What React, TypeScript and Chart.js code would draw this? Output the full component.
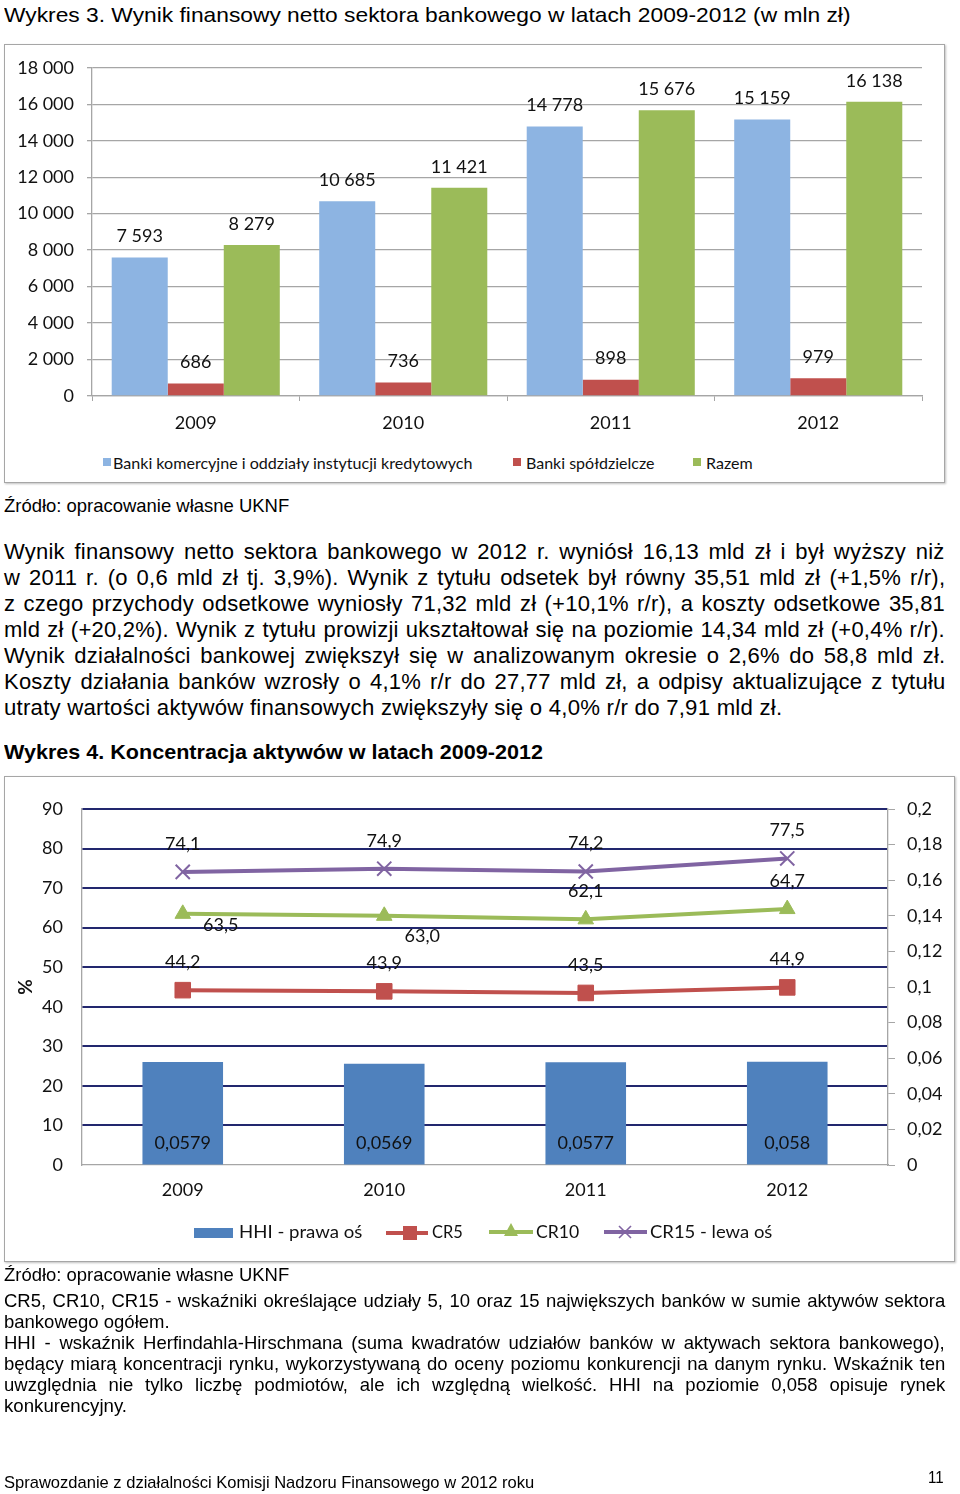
import React, { useEffect, useLayoutEffect, useRef } from 'react';
import { Chart, registerables } from 'chart.js';

Chart.register(...registerables);

// ---------- data: Wykres 3 ----------
const years = ['2009', '2010', '2011', '2012'];
const bankiKomercyjne = [7593, 10685, 14778, 15159];
const bankiSpoldzielcze = [686, 736, 898, 979];
const razem = [8279, 11421, 15676, 16138];
const chart1YMax = 18000;
const chart1YStep = 2000;

// ---------- data: Wykres 4 ----------
const hhi = [0.0579, 0.0569, 0.0577, 0.058];
const cr5 = [44.2, 43.9, 43.5, 44.9];
const cr10 = [63.5, 63.0, 62.1, 64.7];
const cr15 = [74.1, 74.9, 74.2, 77.5];
const leftAxisMax = 90;
const leftAxisStep = 10;
const rightAxisMax = 0.2;
const rightAxisStep = 0.02;

// ---------- text ----------
const title3 = 'Wykres 3. Wynik finansowy netto sektora bankowego w latach 2009-2012 (w mln zł)';
const title4 = 'Wykres 4. Koncentracja aktywów w latach 2009-2012';
const sourceText = 'Źródło: opracowanie własne UKNF';
const paragraphLines = [
  'Wynik finansowy netto sektora bankowego w 2012 r. wyniósł 16,13 mld zł i był wyższy niż',
  'w 2011 r. (o 0,6 mld zł tj. 3,9%). Wynik z tytułu odsetek był równy 35,51 mld zł (+1,5% r/r),',
  'z czego przychody odsetkowe wyniosły 71,32 mld zł (+10,1% r/r), a koszty odsetkowe 35,81',
  'mld zł (+20,2%). Wynik z tytułu prowizji ukształtował się na poziomie 14,34 mld zł (+0,4% r/r).',
  'Wynik działalności bankowej zwiększył się w analizowanym okresie o 2,6% do 58,8 mld zł.',
  'Koszty działania banków wzrosły o 4,1% r/r do 27,77 mld zł, a odpisy aktualizujące z tytułu',
  'utraty wartości aktywów finansowych zwiększyły się o 4,0% r/r do 7,91 mld zł.',
];
const noteLines = [
  'CR5, CR10, CR15 - wskaźniki określające udziały 5, 10 oraz 15 największych banków w sumie aktywów sektora',
  'bankowego ogółem.',
  'HHI - wskaźnik Herfindahla-Hirschmana (suma kwadratów udziałów banków w aktywach sektora bankowego),',
  'będący miarą koncentracji rynku, wykorzystywaną do oceny poziomu konkurencji na danym rynku. Wskaźnik ten',
  'uwzględnia nie tylko liczbę podmiotów, ale ich względną wielkość. HHI na poziomie 0,058 opisuje rynek',
  'konkurencyjny.',
];
const footerText = 'Sprawozdanie z działalności Komisji Nadzoru Finansowego w 2012 roku';
const pageNumber = '11';

const PAGE_FONT = '"Liberation Sans", Arial, sans-serif';
const CHART_FONT = 'Lato, "Open Sans", sans-serif';

const fmtThousands = (v: number) => String(Math.round(v)).replace(/\B(?=(\d{3})+(?!\d))/g, ' ');
const fmtComma = (v: number) => String(Math.round(v * 10000) / 10000).replace('.', ',');
const fmtOneDec = (v: number) => v.toFixed(1).replace('.', ',');

// label placement for line series (dx, dy in px relative to point)
const lineLabelOffsets: [number, number][][] = [
  [[0, -28], [0, -28], [0, -28], [0, -28]],
  [[38, 11], [38, 20], [0, -28], [0, -28]],
  [[0, -28], [0, -28], [0, -28], [0, -28]],
];

type TxtProps = {
  x: number; y: number; text: string; size: number; w?: number;
  mode?: 'fit' | 'justify'; family?: string; weight?: number | string; color?: string; ls?: number;
};

function Txt({ x, y, text, size, w, mode, family = PAGE_FONT, weight = 400, color = '#000', ls = 0 }: TxtProps) {
  const ref = useRef<HTMLSpanElement>(null);
  useLayoutEffect(() => {
    const el = ref.current;
    if (!el) return;
    const apply = () => {
      el.style.wordSpacing = '0px';
      el.style.transform = 'none';
      if (!w || !mode) return;
      const nat = el.offsetWidth;
      if (!nat) return;
      if (mode === 'justify') {
        const spaces = (text.match(/ /g) || []).length;
        if (nat < w && spaces > 0) el.style.wordSpacing = `${(w - nat) / spaces}px`;
        else if (nat > w) el.style.transform = `scaleX(${w / nat})`;
      } else {
        el.style.transform = `scaleX(${w / nat})`;
      }
    };
    apply();
    const f = (document as any).fonts;
    if (f && f.ready) f.ready.then(apply);
  }, [text, w, mode, size, family, ls]);
  return (
    <span
      ref={ref}
      style={{
        position: 'absolute', left: x, top: y - size * 0.6, fontSize: size,
        lineHeight: `${size * 1.2}px`, fontFamily: family, fontWeight: weight as any,
        color, whiteSpace: 'pre', transformOrigin: '0 0', display: 'inline-block',
        letterSpacing: `${ls}px`,
      }}
    >
      {text}
    </span>
  );
}

function Chart1() {
  const ref = useRef<HTMLCanvasElement>(null);
  useEffect(() => {
    if (!ref.current) return;
    const grid = '#A6A6A6';
    const labelsPlugin = {
      id: 'barValueLabels1',
      afterDatasetsDraw(chart: any) {
        const ctx = chart.ctx;
        ctx.save();
        ctx.font = `18px ${CHART_FONT}`;
        ctx.fillStyle = '#111';
        ctx.textAlign = 'center';
        ctx.textBaseline = 'middle';
        chart.data.datasets.forEach((ds: any, i: number) => {
          chart.getDatasetMeta(i).data.forEach((el: any, j: number) => {
            ctx.fillText(fmtThousands(ds.data[j]), el.x, el.y - 21);
          });
        });
        ctx.restore();
      },
    };
    const chart = new Chart(ref.current, {
      type: 'bar',
      data: {
        labels: years,
        datasets: [
          { label: 'Banki komercyjne i oddziały instytucji kredytowych', data: bankiKomercyjne, backgroundColor: '#8DB4E2', categoryPercentage: 0.81, barPercentage: 1 },
          { label: 'Banki spółdzielcze', data: bankiSpoldzielcze, backgroundColor: '#C0504D', categoryPercentage: 0.81, barPercentage: 1 },
          { label: 'Razem', data: razem, backgroundColor: '#9BBB59', categoryPercentage: 0.81, barPercentage: 1 },
        ],
      },
      options: {
        animation: false,
        responsive: false,
        events: [],
        layout: { padding: { left: 0, right: 23, top: 23, bottom: 0 } },
        plugins: { legend: { display: false }, tooltip: { enabled: false } },
        scales: {
          x: {
            offset: true,
            grid: { display: true, drawOnChartArea: false, drawTicks: true, tickLength: 5, color: grid, offset: true },
            border: { color: grid, width: 1.3 },
            ticks: { font: { family: CHART_FONT, size: 18 }, color: '#111', padding: 11 },
            afterFit: (s: any) => { s.height = 48; },
          },
          y: {
            min: 0,
            max: chart1YMax,
            ticks: { stepSize: chart1YStep, callback: (v: any) => fmtThousands(Number(v)), font: { family: CHART_FONT, size: 18 }, color: '#111', padding: 13 },
            grid: { color: grid, lineWidth: 1.3, tickLength: 5, drawTicks: true },
            border: { color: grid, width: 1.3 },
            afterFit: (s: any) => { s.width = 88; },
          },
        },
      } as any,
      plugins: [labelsPlugin],
    });
    return () => chart.destroy();
  }, []);
  return <canvas ref={ref} width={941} height={400} style={{ position: 'absolute', left: 4, top: 44, width: 941, height: 400 }} />;
}

function Chart2() {
  const ref = useRef<HTMLCanvasElement>(null);
  useEffect(() => {
    if (!ref.current) return;
    const gray = '#A6A6A6';
    const navy = '#22276E';
    const labelsPlugin = {
      id: 'valueLabels2',
      afterDatasetsDraw(chart: any) {
        const ctx = chart.ctx;
        ctx.save();
        ctx.font = `18px ${CHART_FONT}`;
        ctx.fillStyle = '#111';
        ctx.textAlign = 'center';
        ctx.textBaseline = 'middle';
        chart.data.datasets.forEach((ds: any, i: number) => {
          const meta = chart.getDatasetMeta(i);
          meta.data.forEach((el: any, j: number) => {
            const v = ds.data[j];
            if (ds.type === 'bar') {
              ctx.fillText(fmtComma(v), el.x, el.base - 21);
            } else {
              const off = lineLabelOffsets[i - 1][j];
              ctx.fillText(fmtOneDec(v), el.x + off[0], el.y + off[1]);
            }
          });
        });
        ctx.restore();
      },
    };
    const chart = new Chart(ref.current, {
      type: 'bar',
      data: {
        labels: years,
        datasets: [
          { type: 'bar', label: 'HHI - prawa oś', data: hhi, yAxisID: 'y1', backgroundColor: '#4F81BD', barPercentage: 0.4, categoryPercentage: 1, order: 2 },
          { type: 'line', label: 'CR5', data: cr5, yAxisID: 'y', borderColor: '#C0504D', backgroundColor: '#C0504D', borderWidth: 4, tension: 0, pointStyle: 'rect', pointRadius: 11, pointBorderWidth: 1, pointBorderColor: '#C0504D', pointBackgroundColor: '#C0504D', order: 1 },
          { type: 'line', label: 'CR10', data: cr10, yAxisID: 'y', borderColor: '#9BBB59', backgroundColor: '#9BBB59', borderWidth: 4, tension: 0, pointStyle: 'triangle', pointRadius: 9, pointBorderWidth: 1, pointBorderColor: '#9BBB59', pointBackgroundColor: '#9BBB59', order: 1 },
          { type: 'line', label: 'CR15 - lewa oś', data: cr15, yAxisID: 'y', borderColor: '#8064A2', backgroundColor: '#8064A2', borderWidth: 4, tension: 0, pointStyle: 'crossRot', pointRadius: 10, pointBorderWidth: 2, pointBorderColor: '#8064A2', order: 1 },
        ],
      },
      options: {
        animation: false,
        responsive: false,
        events: [],
        layout: { padding: { left: 0, right: 0, top: 33, bottom: 0 } },
        plugins: { legend: { display: false }, tooltip: { enabled: false } },
        scales: {
          x: {
            offset: true,
            grid: { display: false, drawTicks: false },
            border: { color: gray, width: 1.3 },
            ticks: { font: { family: CHART_FONT, size: 18 }, color: '#111', padding: 14 },
            afterFit: (s: any) => { s.height = 50; },
          },
          y: {
            position: 'left',
            min: 0,
            max: leftAxisMax,
            ticks: { stepSize: leftAxisStep, font: { family: CHART_FONT, size: 18 }, color: '#111', padding: 19 },
            grid: {
              color: (c: any) => (c.tick && c.tick.value === 0 ? 'rgba(0,0,0,0)' : navy),
              lineWidth: 2,
              drawTicks: false,
            },
            border: { color: gray, width: 1.3 },
            title: { display: true, text: '%', font: { family: CHART_FONT, size: 19, weight: 'bold' }, color: '#111', padding: { top: 10, bottom: 0 } },
            afterFit: (s: any) => { s.width = 78; },
          },
          y1: {
            position: 'right',
            min: 0,
            max: rightAxisMax,
            ticks: { stepSize: rightAxisStep, callback: (v: any) => fmtComma(Number(v)), font: { family: CHART_FONT, size: 18 }, color: '#111', padding: 12 },
            grid: { drawOnChartArea: false, drawTicks: true, tickLength: 7, color: gray },
            border: { color: gray, width: 1.3 },
            afterFit: (s: any) => { s.width = 67; },
          },
        },
      } as any,
      plugins: [labelsPlugin],
    });
    return () => chart.destroy();
  }, []);
  return <canvas ref={ref} width={951} height={439} style={{ position: 'absolute', left: 4, top: 776, width: 951, height: 439 }} />;
}

export default function App() {
  const boxStyle = (left: number, top: number, width: number, height: number): React.CSSProperties => ({
    position: 'absolute', left, top, width, height, boxSizing: 'border-box',
    border: '1px solid #A6A6A6', boxShadow: '1px 1px 2px rgba(0,0,0,0.25)', background: '#fff',
  });
  const noteYs = [1301, 1322, 1343, 1364, 1385, 1406];
  const noteModes: ('justify' | 'fit')[] = ['justify', 'fit', 'justify', 'justify', 'justify', 'fit'];
  const noteWidths = [941, 166, 941, 941, 941, 123];
  return (
    <div style={{ position: 'absolute', left: 0, top: 0, width: 960, height: 1494, background: '#fff', overflow: 'hidden' }}>
      <Txt x={4} y={14.5} text={title3} size={21} w={846} mode="fit" />

      <div style={boxStyle(4, 44, 941, 439)} />
      <Chart1 />
      {/* legend of chart 1 */}
      <div style={{ position: 'absolute', left: 103, top: 458, width: 8, height: 8, background: '#8DB4E2' }} />
      <Txt x={113} y={462.5} text="Banki komercyjne i oddziały instytucji kredytowych" size={15} w={360} mode="fit" family={CHART_FONT} color="#111" />
      <div style={{ position: 'absolute', left: 513, top: 458, width: 8, height: 8, background: '#C0504D' }} />
      <Txt x={526} y={462.5} text="Banki spółdzielcze" size={15} w={128} mode="fit" family={CHART_FONT} color="#111" />
      <div style={{ position: 'absolute', left: 693, top: 458, width: 8, height: 8, background: '#9BBB59' }} />
      <Txt x={706} y={462.5} text="Razem" size={15} w={47} mode="fit" family={CHART_FONT} color="#111" />

      <Txt x={4} y={506} text={sourceText} size={18.4} w={285} mode="fit" />

      {paragraphLines.map((t, i) => (
        <Txt key={i} x={4} y={552 + i * 26} text={t} size={22} ls={0.22}
          w={i === paragraphLines.length - 1 ? 778 : 941}
          mode={i === paragraphLines.length - 1 ? 'fit' : 'justify'} />
      ))}

      <Txt x={4} y={751.5} text={title4} size={21} w={539} mode="fit" weight={700} />

      <div style={boxStyle(4, 776, 951, 486)} />
      <Chart2 />
      {/* legend of chart 2 */}
      <svg width={960} height={1494} style={{ position: 'absolute', left: 0, top: 0, pointerEvents: 'none' }}>
        <rect x={194} y={1228} width={39} height={10} fill="#4F81BD" />
        <line x1={386} y1={1233} x2={428} y2={1233} stroke="#C0504D" strokeWidth={4} />
        <rect x={403} y={1226} width={14} height={14} fill="#C0504D" />
        <line x1={489} y1={1232} x2={533} y2={1232} stroke="#9BBB59" strokeWidth={4} />
        <polygon points="511,1223 504,1236 518,1236" fill="#9BBB59" />
        <line x1={604} y1={1232} x2={647} y2={1232} stroke="#8064A2" strokeWidth={4} />
        <line x1={619} y1={1226} x2={631} y2={1238} stroke="#8064A2" strokeWidth={1.6} />
        <line x1={619} y1={1238} x2={631} y2={1226} stroke="#8064A2" strokeWidth={1.6} />
      </svg>
      <Txt x={239} y={1232} text="HHI - prawa oś" size={18} w={123} mode="fit" family={CHART_FONT} color="#111" />
      <Txt x={432} y={1232} text="CR5" size={18} w={31} mode="fit" family={CHART_FONT} color="#111" />
      <Txt x={536} y={1232} text="CR10" size={18} w={43} mode="fit" family={CHART_FONT} color="#111" />
      <Txt x={650} y={1232} text="CR15 - lewa oś" size={18} w={122} mode="fit" family={CHART_FONT} color="#111" />

      <Txt x={4} y={1275.5} text={sourceText} size={18.4} w={285} mode="fit" />
      {noteLines.map((t, i) => (
        <Txt key={i} x={4} y={noteYs[i]} text={t} size={18.5} w={noteWidths[i]} mode={noteModes[i]} />
      ))}

      <Txt x={4} y={1483} text={footerText} size={17} w={530} mode="fit" />
      <Txt x={928} y={1478} text={pageNumber} size={17} w={16} mode="fit" />
    </div>
  );
}
